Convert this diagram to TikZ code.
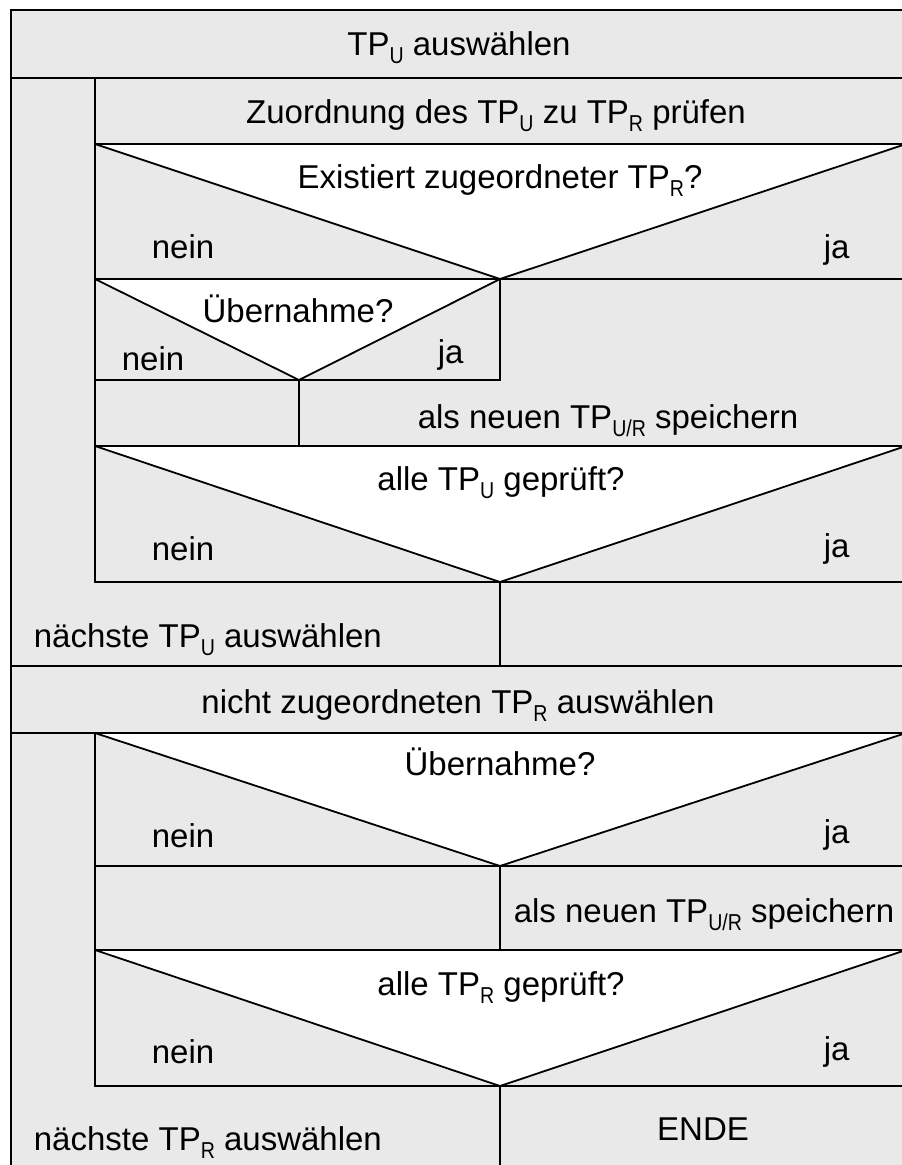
\documentclass[tikz,border=0pt]{standalone}
\usepackage{fontspec}
\setmainfont{Liberation Sans}
\definecolor{nsgray}{RGB}{233,233,233}
\newcommand\lsub[1]{\raisebox{-0.25em}{\scalebox{0.85}[1]{\fontsize{23}{23}\selectfont #1}}}
\begin{document}
\begin{tikzpicture}[x=1pt,y=-1pt, line width=1.8pt, line cap=butt,
  txt/.style={inner sep=0pt, anchor=base, font=\fontsize{33}{40}\selectfont},
  txtl/.style={txt, anchor=base west},
  ln/.style={draw=black, line width=1.8pt}]
\useasboundingbox (0,0) rectangle (902,1165);
\clip (0,0) rectangle (902,1165);
\fill[white] (0,0) rectangle (902,1165);
% background blocks
\fill[nsgray] (11,10) rectangle (906,1180);
% white triangles
\fill[white] (95,144) -- (500,279) -- (906,144) -- cycle;
\fill[white] (95,279) -- (299,380) -- (500,279) -- cycle;
\fill[white] (95,446) -- (500,582) -- (906,446) -- cycle;
\fill[white] (95,733) -- (500,866) -- (906,733) -- cycle;
\fill[white] (95,950) -- (500,1086) -- (906,950) -- cycle;
% outer frame
\draw[ln] (11,10) rectangle (906,1180);
% first loop
\draw[ln] (11,78) -- (906,78);
\draw[ln] (95,78) -- (95,582) -- (906,582);
\draw[ln] (95,144) -- (906,144);
\draw[ln] (95,144) -- (500,279) -- (906,144);
\draw[ln] (95,279) -- (906,279);
\draw[ln] (95,279) -- (299,380) -- (500,279);
\draw[ln] (500,279) -- (500,380) -- (95,380);
\draw[ln] (299,380) -- (299,446);
\draw[ln] (95,446) -- (906,446);
\draw[ln] (95,446) -- (500,582) -- (906,446);
\draw[ln] (500,582) -- (500,666);
\draw[ln] (11,666) -- (906,666);
% second loop
\draw[ln] (11,733) -- (906,733);
\draw[ln] (95,733) -- (95,1086) -- (906,1086);
\draw[ln] (95,733) -- (500,866) -- (906,733);
\draw[ln] (95,866) -- (906,866);
\draw[ln] (500,866) -- (500,950);
\draw[ln] (95,950) -- (906,950);
\draw[ln] (95,950) -- (500,1086) -- (906,950);
\draw[ln] (500,1086) -- (500,1180);
% texts
\node[txt] (t1) at (459,55) {TP\lsub{U} auswählen};
\node[txt] (t2) at (496,123) {Zuordnung des TP\lsub{U} zu TP\lsub{R} prüfen};
\node[txt] (t3) at (500,188) {Existiert zugeordneter TP\lsub{R}?};
\node[txtl] (n1) at (151,258) {nein};
\node[txtl] (j1) at (823,258) {ja};
\node[txt] (t4) at (298,322) {Übernahme?};
\node[txtl] (n2) at (121,370) {nein};
\node[txtl] (j2) at (437,363) {ja};
\node[txt] (t5) at (608,428) {als neuen TP\lsub{U/R} speichern};
\node[txt] (t6) at (501,490) {alle TP\lsub{U} geprüft?};
\node[txtl] (n3) at (151,560) {nein};
\node[txtl] (j3) at (823,557) {ja};
\node[txtl] (t7) at (33,647) {nächste TP\lsub{U} auswählen};
\node[txt] (t8) at (458,713) {nicht zugeordneten TP\lsub{R} auswählen};
\node[txt] (t9) at (500,775) {Übernahme?};
\node[txtl] (n4) at (151,847) {nein};
\node[txtl] (j4) at (823,843) {ja};
\node[txt] (t10) at (704,922) {als neuen TP\lsub{U/R} speichern};
\node[txt] (t11) at (501,995) {alle TP\lsub{R} geprüft?};
\node[txtl] (n5) at (151,1063) {nein};
\node[txtl] (j5) at (823,1060) {ja};
\node[txt] (t12) at (703,1140) {ENDE};
\node[txtl] (t13) at (33,1150) {nächste TP\lsub{R} auswählen};
\end{tikzpicture}
\end{document}
